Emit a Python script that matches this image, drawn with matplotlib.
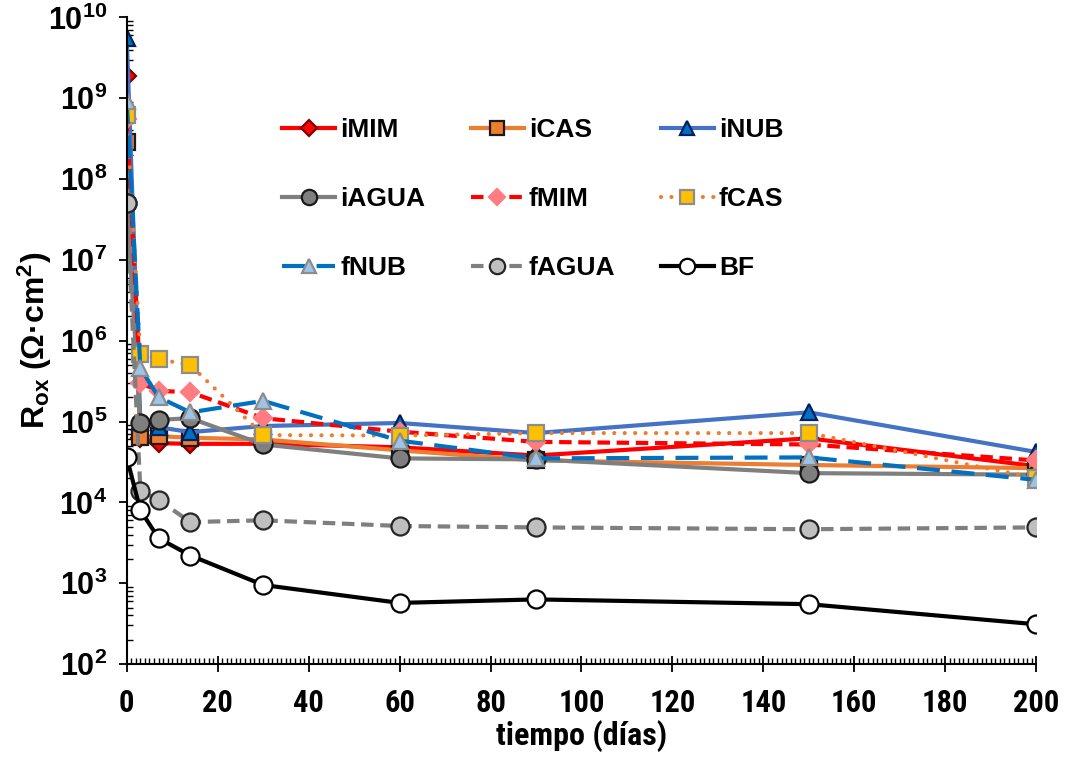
import matplotlib
matplotlib.use("Agg")
import matplotlib.pyplot as plt
from matplotlib import font_manager
from matplotlib.ticker import MultipleLocator, LogLocator, LogFormatterSciNotation, NullFormatter

plt.rcParams['font.family'] = ['Liberation Sans', 'DejaVu Sans']
plt.rcParams['font.weight'] = 'bold'
plt.rcParams['mathtext.default'] = 'regular'


def narrow_family():
    """Pick an installed narrow/condensed sans family for the x-axis text."""
    names = {f.name for f in font_manager.fontManager.ttflist}
    for cand in ['Liberation Sans Narrow', 'Arial Narrow', 'Roboto Condensed',
                 'Open Sans Condensed', 'Noto Sans Condensed', 'DejaVu Sans Condensed']:
        if cand in names:
            return cand, 'normal'
    for f in font_manager.fontManager.ttflist:
        if f.stretch in ('condensed', 'semi-condensed') and f.name in (
                'Noto Sans', 'Open Sans', 'Roboto', 'DejaVu Sans', 'Lato', 'Inter'):
            return f.name, f.stretch
    return 'Liberation Sans', 'normal'


NARROW, NARROW_STRETCH = narrow_family()

# sampling times (days)
t = [0, 3, 7, 14, 30, 60, 90, 150, 200]

# oxide resistance, Ohm*cm2
iMIM = [1.9e9, 6.2e4, 5.4e4, 5.3e4, 5.3e4, 4.8e4, 3.8e4, 6.2e4, 2.8e4]
iCAS = [2.9e8, 6.4e4, 6.6e4, 6.3e4, 6.0e4, 4.4e4, 3.3e4, 2.9e4, 2.65e4]
iNUB = [5.5e9, 1.0e5, 8.5e4, 7.4e4, 8.8e4, 9.6e4, 7.2e4, 1.3e5, 4.2e4]
iAGUA = [5.0e7, 9.6e4, 1.05e5, 1.1e5, 5.2e4, 3.5e4, 3.4e4, 2.3e4, 2.2e4]
fMIM = [5.5e8, 3.0e5, 2.4e5, 2.3e5, 1.1e5, 7.5e4, 5.6e4, 5.2e4, 3.3e4]
fCAS = [6.2e8, 6.9e5, 5.9e5, 5.0e5, 6.8e4, 6.7e4, 7.2e4, 7.2e4, 2.0e4]
fNUB = [9.3e8, 4.6e5, 2.0e5, 1.3e5, 1.8e5, 5.8e4, 3.5e4, 3.6e4, 1.9e4]
fAGUA = [5.0e7, 1.4e4, 1.07e4, 5.7e3, 6.0e3, 5.1e3, 4.9e3, 4.65e3, 4.9e3]
BF = [3.6e4, 8.0e3, 3.6e3, 2.2e3, 9.5e2, 5.7e2, 6.3e2, 5.5e2, 3.1e2]

series_names = ['iMIM', 'iCAS', 'iNUB', 'iAGUA', 'fMIM', 'fCAS', 'fNUB', 'fAGUA', 'BF']
series_values = [iMIM, iCAS, iNUB, iAGUA, fMIM, fCAS, fNUB, fAGUA, BF]

LW = 3.0
styles = {
    'iMIM': dict(color='#FF0000', ls='-', marker='D', ms=9.5, mfc='#FF0000', mec='#7F0000'),
    'iCAS': dict(color='#ED7D31', ls='-', marker='s', ms=11.5, mfc='#ED7D31', mec='#1a1a1a'),
    'iNUB': dict(color='#4472C4', ls='-', marker='^', ms=12, mfc='#0070C0', mec='#002060'),
    'iAGUA': dict(color='#7F7F7F', ls='-', marker='o', ms=13, mfc='#7F7F7F', mec='#1a1a1a'),
    'fMIM': dict(color='#FF0000', ls=(0, (3.0, 1.6)), marker='D', ms=9.5, mfc='#FF7C80', mec='#FF7C80'),
    'fCAS': dict(color='#ED7D31', ls=(0, (0.01, 2.5)), marker='s', ms=12, mfc='#FFC000', mec='#8c8c8c',
                 dash_capstyle='round'),
    'fNUB': dict(color='#0070C0', ls=(0, (5.5, 2.8)), marker='^', ms=12, mfc='#9DC3E6', mec='#8c8c8c'),
    'fAGUA': dict(color='#7F7F7F', ls=(0, (3.0, 1.6)), marker='o', ms=13, mfc='#BFBFBF', mec='#262626'),
    'BF': dict(color='#000000', ls='-', marker='o', ms=13, mfc='#FFFFFF', mec='#000000'),
}

fig = plt.figure(figsize=(10.65, 7.58), dpi=100)
ax = fig.add_axes([0.119, 0.124, 0.854, 0.853])

handles = {}
for name, vals in zip(series_names, series_values):
    st = dict(styles[name])
    ls = st.pop('ls')
    handles[name], = ax.plot(t, vals, linestyle=ls, lw=LW, mew=1.6, label=name, **st)

ax.set_yscale('log')
ax.set_xlim(0, 200)
ax.set_ylim(1e2, 1e10)

ax.xaxis.set_major_locator(MultipleLocator(20))
ax.xaxis.set_minor_locator(MultipleLocator(1))
ax.yaxis.set_major_locator(LogLocator(base=10, numticks=20))
ax.yaxis.set_minor_locator(LogLocator(base=10, subs=range(2, 10), numticks=100))
ax.yaxis.set_major_formatter(LogFormatterSciNotation())
ax.yaxis.set_minor_formatter(NullFormatter())

ax.tick_params(axis='x', which='major', direction='inout', length=11, width=1.3, pad=12)
ax.tick_params(axis='x', which='minor', direction='in', length=4, width=1.0)
ax.tick_params(axis='y', which='major', direction='out', length=6, width=1.3, pad=8)
ax.tick_params(axis='y', which='minor', direction='in', length=4, width=1.0)

for lab in ax.get_xticklabels():
    lab.set_family([NARROW, 'Liberation Sans', 'DejaVu Sans'])
    lab.set_stretch(NARROW_STRETCH)
    lab.set_fontsize(22)
    lab.set_fontweight('bold')
for lab in ax.get_yticklabels():
    lab.set_fontsize(22)
    lab.set_fontweight('bold')

for side in ('top', 'right'):
    ax.spines[side].set_visible(False)
for side in ('left', 'bottom'):
    ax.spines[side].set_linewidth(1.5)

ax.set_xlabel('tiempo (días)', fontsize=23, fontweight='bold', stretch=NARROW_STRETCH,
              family=[NARROW, 'Liberation Sans', 'DejaVu Sans'])
ax.xaxis.set_label_coords(0.5, -0.087)
ax.set_ylabel('R$_{ox}$ (Ω·cm$^{2}$)', fontsize=23, fontweight='bold')
ax.yaxis.set_label_coords(-0.08, 0.5)

# legend filled row by row: three entries per row
row_order = ['iMIM', 'iAGUA', 'fNUB', 'iCAS', 'fMIM', 'fAGUA', 'iNUB', 'fCAS', 'BF']
leg = ax.legend([handles[n] for n in row_order], row_order, ncol=3, loc='upper left',
                bbox_to_anchor=(0.145, 0.881), frameon=False,
                prop=dict(size=19, weight='bold'), handlelength=2.0, handletextpad=0.2,
                columnspacing=1.72, labelspacing=1.7, markerscale=0.85)

fig.savefig('out.png', dpi=100)
